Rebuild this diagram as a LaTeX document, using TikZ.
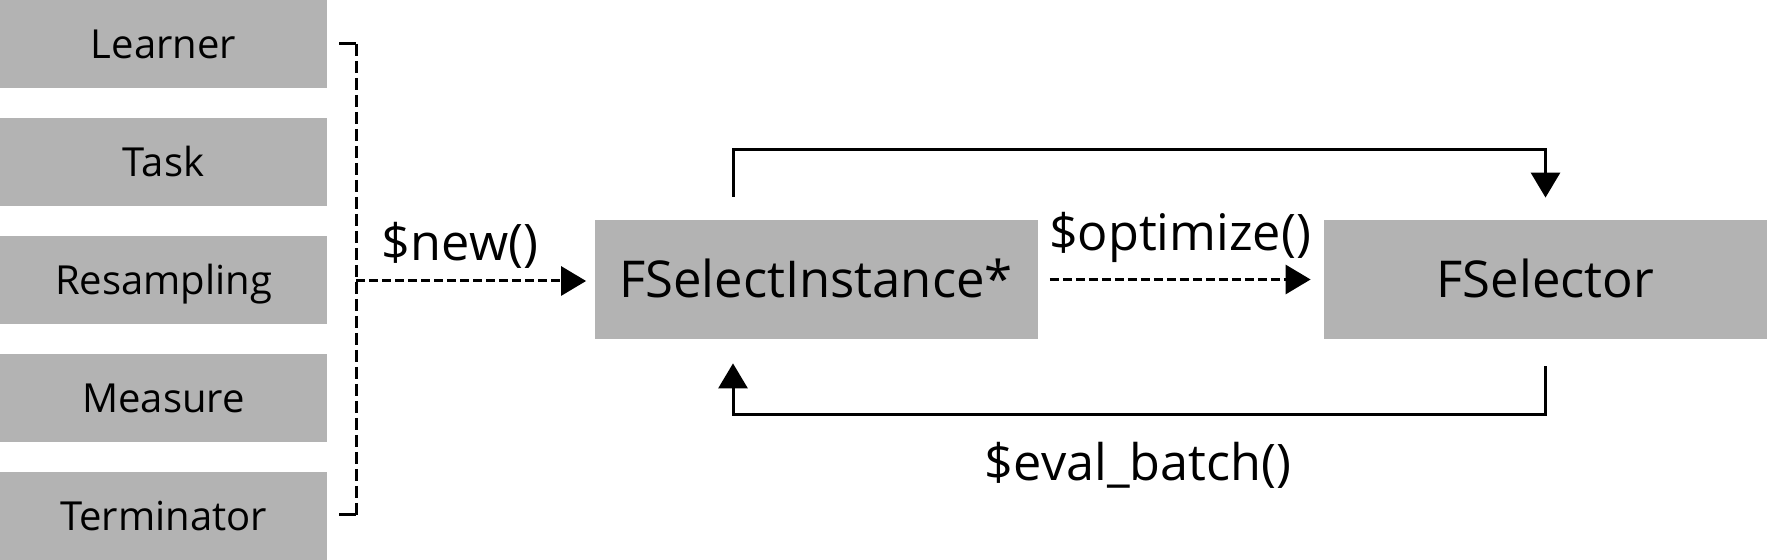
\documentclass[tikz,border=0pt]{standalone}
\usepackage{fontspec}
\setmainfont{Open Sans}
\usetikzlibrary{arrows.meta}
\definecolor{boxgray}{RGB}{179,179,179}
\tikzset{
  sidebox/.style  = {fill=boxgray, minimum width=163.5pt, minimum height=44pt,
                     inner sep=0pt, font=\fontsize{20pt}{24pt}\selectfont,
                     text height=19pt, text depth=4.8pt},
  mainbox/.style  = {fill=boxgray, minimum width=221.5pt, minimum height=59.5pt,
                     inner sep=0pt, font=\fontsize{25.4pt}{30pt}\selectfont,
                     text height=24.1pt, text depth=6.1pt},
  calllabel/.style = {inner sep=0pt, anchor=base, font=\fontsize{25.2pt}{30pt}\selectfont},
  flow/.style     = {line width=1.5pt, -{Triangle[length=12.5pt,width=14.5pt]}},
  dashflow/.style = {flow, dash pattern=on 4.5pt off 2pt},
}
\begin{document}
\begin{tikzpicture}[x=0.5pt, y=-0.5pt]
        \useasboundingbox (0,0) rectangle (1767,560);
        % components on the left
        \node[sidebox] (learner)    at (163.5,  44) {Learner};
        \node[sidebox] (task)       at (163.5, 162) {Task};
        \node[sidebox] (resampling) at (163.5, 280) {Resampling};
        \node[sidebox] (measure)    at (163.5, 398) {Measure};
        \node[sidebox] (terminator) at (163.5, 516) {Terminator};
        % the two main objects
        \node[mainbox] (instance)   at ( 816, 279.5) {FSelectInstance*};
        \node[mainbox] (fselector)  at (1545.5, 279.5) {FSelector};
        % coordinates for the bracket
        \coordinate (bracketlefttop)  at (339,  44);
        \coordinate (brackettop)      at (356,  44);
        \coordinate (bracketbottom)   at (356, 515);
        \coordinate (bracketleftbot)  at (339, 515);
        \coordinate (bracketmid)      at (356, 281);
        % drawing the bracket
        \draw[line width=1.5pt]  (bracketlefttop) -- (brackettop);
        \draw[line width=1.5pt]  (bracketleftbot) -- (bracketbottom);
        \draw[line width=1.5pt, dash pattern=on 6pt off 2.5pt]  (brackettop) -- (bracketbottom);
        % drawing the calls
        \draw[dashflow]  (bracketmid) -- ([xshift=-4pt]instance.west |- bracketmid);
        \draw[dashflow]  ([xshift=6pt]instance.east) -- ([xshift=-6.5pt]fselector.west);
        \draw[flow]  ([xshift=-41.5pt, yshift=11.5pt]instance.north) -- ++(0,-47)
                     -| ([yshift=11pt]fselector.north);
        \draw[flow]  ([yshift=-13.5pt]fselector.south) -- ++(0,48)
                     -| ([xshift=-41.5pt, yshift=-12pt]instance.south);
        % labels of the calls
        \node[calllabel] (newlabel)      at ( 460, 261) {\$new()};
        \node[calllabel] (optimizelabel) at (1180, 251) {\$optimize()};
        \node[calllabel] (evallabel)     at (1138, 481) {\$eval\_batch()};
      \end{tikzpicture}
\end{document}
